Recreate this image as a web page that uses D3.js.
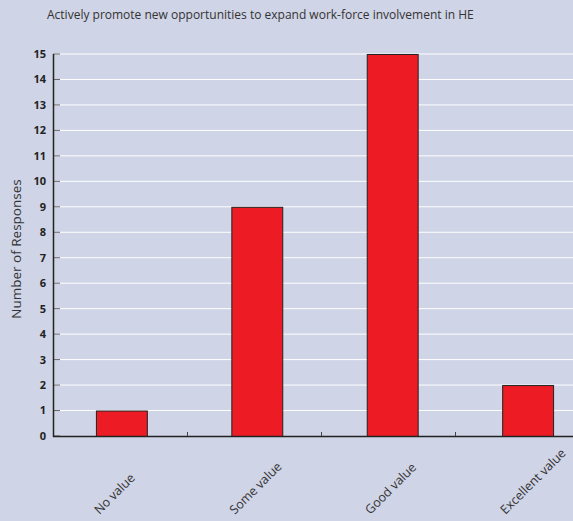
<!DOCTYPE html>
<html><head><meta charset="utf-8">
<script src="https://cdn.jsdelivr.net/npm/d3@7"></script>
<style>body{margin:0;background:#cfd4e6;}svg{display:block;}</style>
</head><body>
<svg id="c" width="573" height="521"></svg>
<script>
const title = "Actively promote new opportunities to expand work-force involvement in HE";
const categories = ["No value", "Some value", "Good value", "Excellent value"];
const values = [1, 9, 15, 2];
const yTicks = [0,1,2,3,4,5,6,7,8,9,10,11,12,13,14,15];
const yLabel = "Number of Responses";

const svg = d3.select("#c");
const W = 573, H = 521;
svg.append("rect").attr("width", W).attr("height", H).attr("fill", "#cfd4e6");

const x = d3.scaleBand().domain(categories).range([53, 596]).paddingInner(0.624).paddingOuter(0.317);
const xb = d3.scaleBand().domain(categories).range([53, 589]);
const y = d3.scaleLinear().domain([0, 15]).range([436, 54]);

// gridlines
svg.append("g").selectAll("line").data(yTicks.filter(d => d > 0)).join("line")
  .attr("x1", 53).attr("x2", W).attr("y1", d => y(d)).attr("y2", d => y(d))
  .attr("stroke", "#ffffff").attr("stroke-width", 1);

// y ticks (inside)
svg.append("g").selectAll("line").data(yTicks).join("line")
  .attr("x1", 53).attr("x2", 60).attr("y1", d => y(d)).attr("y2", d => y(d))
  .attr("stroke", "#666").attr("stroke-width", 1);

// y tick labels
svg.append("g").selectAll("text").data(yTicks).join("text")
  .attr("x", 46).attr("y", d => y(d)).attr("dy", "0.36em")
  .attr("text-anchor", "end").attr("font-family", "Open Sans, sans-serif")
  .attr("font-size", 11).attr("font-weight", "bold").attr("fill", "#222")
  .text(d => d);

// bars
svg.append("g").selectAll("rect").data(values).join("rect")
  .attr("x", (d, i) => x(categories[i]) + 0.5)
  .attr("y", d => y(d) + 0.5)
  .attr("width", x.bandwidth())
  .attr("height", d => y(0) - y(d))
  .attr("fill", "#ed1c24").attr("stroke", "#222").attr("stroke-width", 1);

// axes lines
svg.append("line").attr("x1", 53.5).attr("x2", 53.5).attr("y1", 54).attr("y2", 437)
  .attr("stroke", "#222").attr("stroke-width", 1.5);
svg.append("line").attr("x1", 53).attr("x2", W).attr("y1", 436.5).attr("y2", 436.5)
  .attr("stroke", "#222").attr("stroke-width", 1.5);

// x ticks at band boundaries
svg.append("g").selectAll("line").data(categories.slice(1)).join("line")
  .attr("x1", d => xb(d) + 0.5).attr("x2", d => xb(d) + 0.5)
  .attr("y1", 436).attr("y2", 432).attr("stroke", "#444").attr("stroke-width", 1);

// x labels
svg.append("g").selectAll("text").data(categories).join("text")
  .attr("transform", d => `translate(${x(d) + x.bandwidth()/2 - 22},${515}) rotate(-45)`)
  .attr("text-anchor", "start").attr("font-family", "Open Sans, sans-serif")
  .attr("font-size", 12.5).attr("fill", "#333").text(d => d);

// y label
svg.append("text").attr("transform", `translate(21,249) rotate(-90)`)
  .attr("text-anchor", "middle").attr("font-family", "Open Sans, sans-serif")
  .attr("font-size", 13.5).attr("fill", "#333").text(yLabel);

// title
svg.append("text").attr("x", 47).attr("y", 19)
  .attr("font-family", "Open Sans, sans-serif").attr("font-size", 12)
  .attr("fill", "#333").text(title);
</script>
</body></html>
